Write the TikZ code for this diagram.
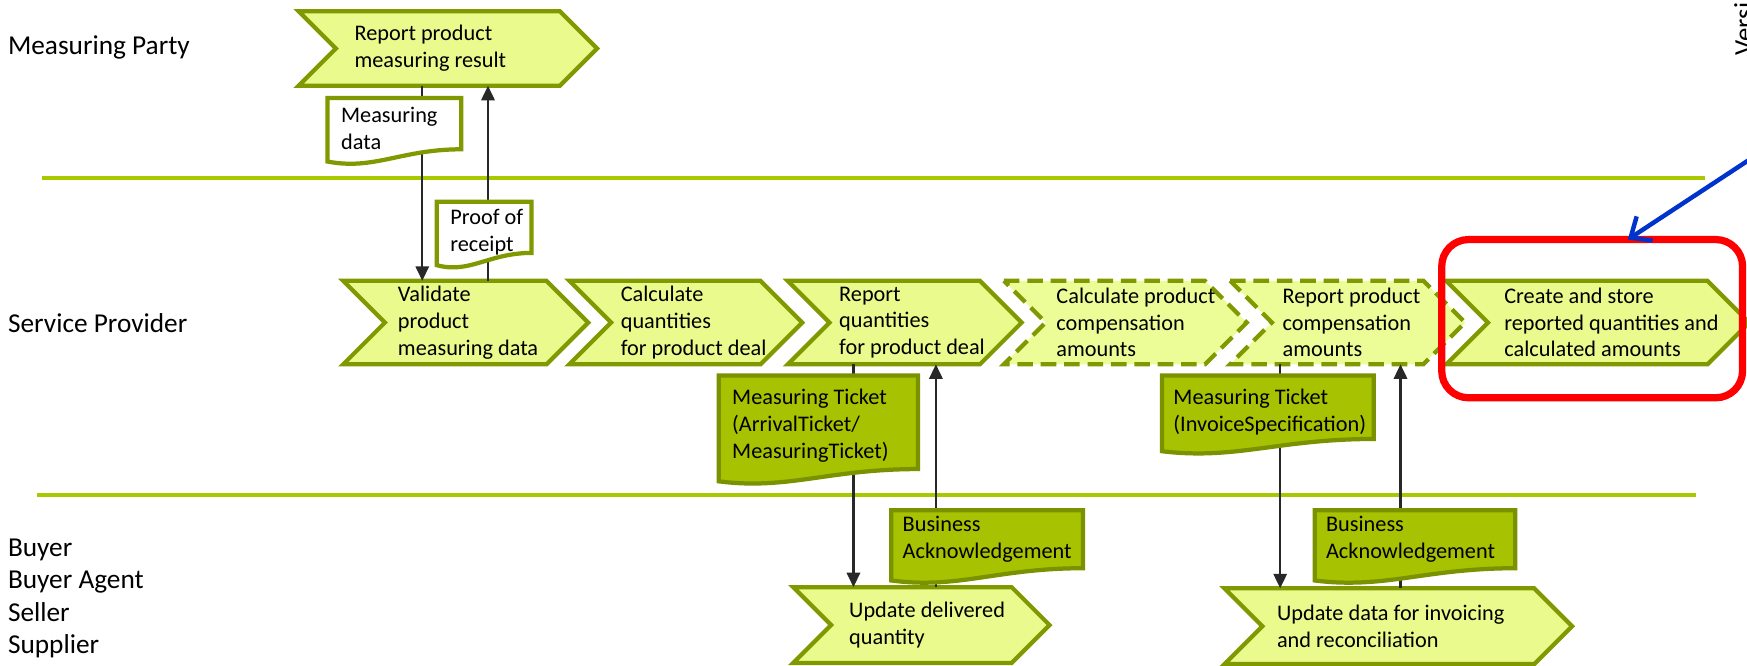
\documentclass[tikz,border=0pt]{standalone}
\usepackage{fontspec}
\setmainfont{Carlito}
\usetikzlibrary{arrows.meta}
\definecolor{chevfill}{RGB}{234,250,140}
\definecolor{chevfilldash}{RGB}{236,252,150}
\definecolor{chevline}{RGB}{128,153,0}
\definecolor{docfill}{RGB}{166,194,0}
\definecolor{docline}{RGB}{122,146,0}
\definecolor{lanecol}{RGB}{170,200,0}
\definecolor{conncol}{RGB}{40,40,40}
\definecolor{hlblue}{RGB}{0,51,204}
% #1 name, #2 L, #3 T, #4 R(tip), #5 B, #6 style, #7 text x, #8 text
\newcommand{\chevron}[8]{%
  \path[#6] (#2,#3) -- ({#4-(#5-#3)/2},#3) -- (#4,{(#3+#5)/2}) -- ({#4-(#5-#3)/2},#5) -- (#2,#5) -- ({#2+(#5-#3)/2},{(#3+#5)/2}) -- cycle;
  \node[chevarea, minimum width={#4-#2}, minimum height={#5-#3}] (#1) at ({(#2+#4)/2},{(#3+#5)/2}) {};
  \node[boxtext, anchor=west] (#1-t) at (#7,{(#3+#5)/2}) {#8};
}
% #1 name, #2 L, #3 T, #4 R, #5 yb, #6 style, #7 text pos, #8 text
\newcommand{\docshape}[8]{%
  \path[#6] (#2,#3) -- (#4,#3) -- (#4,#5) .. controls ({#4-0.45*(#4-#2)},#5) and ({#2+0.35*(#4-#2)},{#5+19}) .. (#2,{#5+11}) -- cycle;
  \node[chevarea, minimum width={#4-#2}, minimum height={#5+11-#3}] (#1) at ({(#2+#4)/2},{(#3+#5+11)/2}) {};
  \node[boxtext, anchor=north west] (#1-t) at (#7) {#8};
}
\begin{document}
\begin{tikzpicture}[x=1pt,y=-1pt,
  chevsolid/.style={fill=chevfill, draw=chevline, line width=3.8pt, line join=miter},
  chevdashed/.style={chevsolid, fill=chevfilldash, dash pattern=on 14pt off 7pt},
  chevarea/.style={inner sep=0pt, outer sep=0pt},
  boxtext/.style={font=\fontsize{20}{24}\selectfont, align=left, inner sep=0pt, text=black},
  doclight/.style={fill=white, draw=chevline, line width=3.8pt},
  docdark/.style={fill=docfill, draw=docline, line width=3.8pt},
  lanelabel/.style={font=\fontsize{24.5}{29}\selectfont, align=left, inner sep=0pt, anchor=west, text=black},
  lane/.style={draw=lanecol, line width=3.5pt},
  conn/.style={draw=conncol, line width=1.9pt, -{Triangle[length=13pt,width=12pt]}},
  bluearrow/.style={draw=hlblue, line width=4pt, line cap=round, line join=round, -{Straight Barb[length=15pt,width=26pt]}},
]
\useasboundingbox (0,0) rectangle (1568,597);
\clip (0,0) rectangle (1568,597);

% lanes
\draw[lane] (38,160) -- (1530,160);
\draw[lane] (33,444) -- (1522,444);

% lane labels
\node[lanelabel] (l1) at (7,43) {Measuring Party};
\node[lanelabel] (l2) at (7,290) {Service Provider};
\node[lanelabel] (l3) at (7,537) {Buyer\\Buyer Agent\\Seller\\Supplier};

% process steps
\chevron{rpm}{268}{10}{536}{77}{chevsolid}{318}{Report product\\measuring result}
\chevron{vd}{308}{252}{528}{327}{chevsolid}{357}{Validate\\product\\measuring data}
\chevron{cq}{511}{252}{720}{327}{chevsolid}{557}{Calculate\\quantities\\for product deal}
\chevron{rq}{707}{252}{917}{327}{chevsolid}{753}{Report\\quantities\\for product deal}
\chevron{cc}{901}{252}{1119}{327}{chevdashed}{948}{Calculate product\\compensation\\amounts}
\chevron{rc}{1104}{252}{1315}{327}{chevdashed}{1151}{Report product\\compensation\\amounts}
\chevron{cs}{1298}{252}{1570}{327}{chevsolid}{1350}{Create and store\\reported quantities and\\calculated amounts}
\chevron{ud}{712}{527}{942}{595}{chevsolid}{762}{Update delivered\\quantity}
\chevron{ui}{1099}{528}{1411}{596}{chevsolid}{1146}{Update data for invoicing\\and reconciliation}

% connectors
\coordinate (xa) at (379,0);
\coordinate (xb) at (438,0);
\coordinate (xc) at (766,0);
\coordinate (xd) at (840,0);
\coordinate (xe) at (1149,0);
\coordinate (xf) at (1257,0);
\draw[conn] (rpm.south -| xa) -- (vd.north -| xa);
\draw[conn] (vd.north -| xb) -- (rpm.south -| xb);
\draw[conn] (rq.south -| xc) -- (ud.north -| xc);
\draw[conn] (ud.north -| xd) -- (rq.south -| xd);
\draw[conn] (rc.south -| xe) -- (ui.north -| xe);
\draw[conn] (ui.north -| xf) -- (rc.south -| xf);

% documents
\docshape{md}{294}{88}{414}{134}{doclight}{306,96}{Measuring\\data}
\docshape{pr}{392}{181}{477}{227}{doclight}{404,188}{Proof of\\receipt}
\docshape{mt1}{645}{337}{824}{421}{docdark}{657,349}{Measuring Ticket\\(ArrivalTicket/\\MeasuringTicket)}
\docshape{mt2}{1043}{337}{1233}{394}{docdark}{1053,349}{Measuring Ticket\\(InvoiceSpecification)}
\docshape{ba1}{800}{458}{972}{510}{docdark}{810,463}{Business\\Acknowledgement}
\docshape{ba2}{1180}{458}{1360}{510}{docdark}{1190,463}{Business\\Acknowledgement}

% highlight
\node[draw=red, line width=6.5pt, rounded corners=24pt, minimum width=270pt, minimum height=142pt, inner sep=0pt, outer sep=0pt] (hl) at (1429,286) {};
\coordinate (bs) at (1630,104);
\draw[bluearrow] (bs) -- ([xshift=32pt]hl.north);

% version text
\node[font=\fontsize{24}{29}\selectfont, rotate=90, anchor=base west, inner sep=0pt] (ver) at (1573,50) {Versi};
\end{tikzpicture}
\end{document}
